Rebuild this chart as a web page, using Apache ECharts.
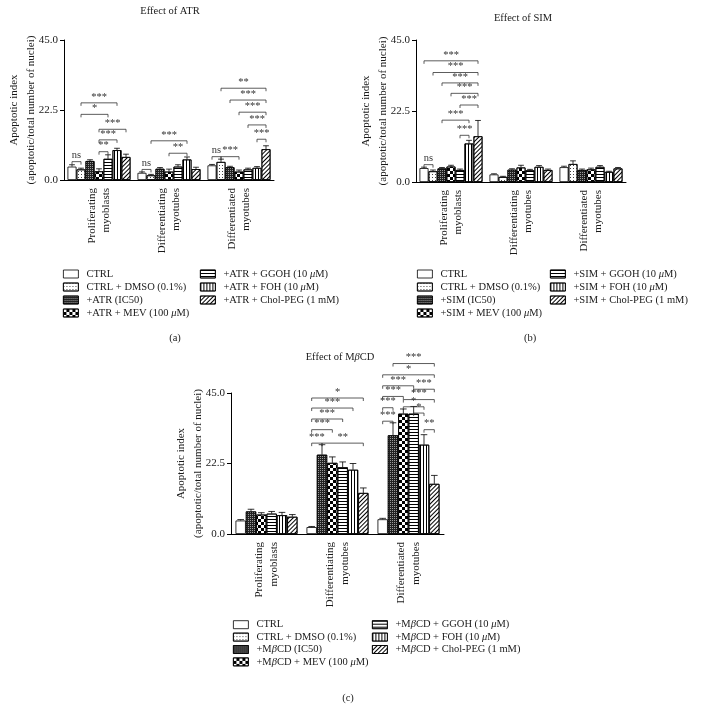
<!DOCTYPE html>
<html><head><meta charset="utf-8">
<script src="https://cdn.jsdelivr.net/npm/echarts/dist/echarts.min.js"></script>
<style>html,body{margin:0;padding:0;background:#fff}#c{width:703px;height:711px}</style>
</head><body><div id="c"></div>
<script>
// ---------- DATA ----------
const groups = ['Proliferating\nmyoblasts', 'Differentiating\nmyotubes', 'Differentiated\nmyotubes'];
const yTicks = [0, 22.5, 45];

const namesA = ['CTRL', 'CTRL + DMSO (0.1%)', '+ATR (IC50)', '+ATR + MEV (100 μM)', '+ATR + GGOH (10 μM)', '+ATR + FOH (10 μM)', '+ATR + Chol-PEG (1 mM)'];
const valuesA = [
  [4.3, 2.3, 4.7],
  [3.4, 1.5, 5.8],
  [6.1, 3.6, 4.1],
  [2.8, 2.7, 2.7],
  [6.8, 4.3, 3.4],
  [9.6, 6.6, 3.9],
  [7.4, 3.5, 9.9]
];
const errorsA = [
  [0.6, 0.3, 0.3],
  [0.4, 0.3, 0.9],
  [0.4, 0.4, 0.3],
  [0.8, 0.8, 0.5],
  [1.3, 0.6, 0.4],
  [0.6, 0.8, 0.4],
  [0.9, 0.6, 1.1]
];
// [group, fromBar, toBar, y, label]
const bracketsA = [
  [0, 0, 1, 5.9, 'ns'], [0, 3, 4, 9.1, '**'], [0, 3, 5, 12.9, '***'], [0, 3, 6, 16.3, '***'], [0, 1, 4, 21.1, '*'], [0, 1, 5, 24.8, '***'],
  [1, 0, 1, 3.4, 'ns'], [1, 3, 5, 8.6, '**'], [1, 1, 5, 12.6, '***'],
  [2, 0, 1, 7.5, 'ns'], [2, 1, 3, 7.5, '***'], [2, 5, 6, 13.1, '***'], [2, 4, 6, 17.7, '***'], [2, 3, 6, 21.8, '***'], [2, 2, 6, 25.7, '***'], [2, 1, 6, 29.5, '**']
];

const namesB = ['CTRL', 'CTRL + DMSO (0.1%)', '+SIM (IC50)', '+SIM + MEV (100 μM)', '+SIM + GGOH (10 μM)', '+SIM + FOH (10 μM)', '+SIM + Chol-PEG (1 mM)'];
const valuesB = [
  [4.4, 2.4, 4.7],
  [3.4, 1.6, 5.7],
  [4.3, 3.9, 3.8],
  [4.9, 4.6, 4.0],
  [3.8, 3.7, 4.8],
  [12.2, 4.8, 3.2],
  [14.5, 3.8, 4.3]
];
const errorsB = [
  [0.3, 0.2, 0.3],
  [0.4, 0.2, 1.0],
  [0.3, 0.3, 0.3],
  [0.4, 0.7, 0.4],
  [0.3, 0.3, 0.4],
  [1.0, 0.4, 0.2],
  [5.0, 0.3, 0.3]
];
const bracketsB = [
  [0, 0, 1, 5.5, 'ns'], [0, 4, 5, 14.8, '***'], [0, 2, 5, 19.6, '***'], [0, 4, 6, 24.4, '***'], [0, 3, 6, 28.1, '***'], [0, 2, 6, 31.4, '***'], [0, 1, 6, 34.7, '***'], [0, 0, 6, 38.4, '***']
];

const namesC = ['CTRL', '+MβCD (IC50)', '+MβCD + MEV (100 μM)', '+MβCD + GGOH (10 μM)', '+MβCD + FOH (10 μM)', '+MβCD + Chol-PEG (1 mM)'];
const legendC = ['CTRL', 'CTRL + DMSO (0.1%)', '+MβCD (IC50)', '+MβCD + MEV (100 μM)', '+MβCD + GGOH (10 μM)', '+MβCD + FOH (10 μM)', '+MβCD + Chol-PEG (1 mM)'];
const valuesC = [
  [4.3, 2.2, 4.7],
  [7.2, 25.3, 31.5],
  [6.2, 22.7, 38.4],
  [6.5, 21.3, 38.4],
  [6.0, 20.5, 28.5],
  [5.5, 13.1, 16.0]
];
const errorsC = [
  [0.3, 0.2, 0.3],
  [0.7, 3.2, 4.0],
  [0.6, 1.9, 1.5],
  [0.7, 1.7, 2.3],
  [0.9, 2.0, 3.2],
  [0.7, 1.6, 2.7]
];
const bracketsC = [
  [1, 0, 1, 29.0, '***'], [1, 1, 5, 29.0, '**'], [1, 0, 2, 33.3, '***'], [1, 0, 3, 36.7, '***'], [1, 0, 4, 40.2, '***'], [1, 0, 5, 43.4, '*'],
  [2, 4, 5, 33.3, '**'], [2, 0, 1, 36.0, '***'], [2, 3, 4, 38.6, '*'], [2, 0, 1, 40.3, '***'], [2, 2, 4, 40.6, '*'],
  [2, 0, 2, 43.9, '***'], [2, 2, 5, 42.9, '***'], [2, 0, 3, 47.3, '***'], [2, 3, 5, 46.2, '***'], [2, 0, 5, 50.8, '*'], [2, 1, 5, 54.4, '***']
];

// ---------- STYLE ----------
const FONT = '"Liberation Serif", "Times New Roman", serif';
const TXT = '#1a1a1a';
const patterns = [
  { color: '#fff' },
  { color: '#fff', decal: { symbol: 'rect', symbolSize: 1, color: '#444', dashArrayX: [1, 2], dashArrayY: [1, 2] } },
  { color: '#222', decal: { symbol: 'rect', symbolSize: 1, color: '#9a9a9a', dashArrayX: [1, 1], dashArrayY: [1, 1] } },
  { color: '#fff', decal: { symbol: 'rect', symbolSize: 1, color: '#000', dashArrayX: [[3, 3], [0, 3, 3, 0]], dashArrayY: [3, 0] } },
  { color: '#fff', decal: { symbol: 'rect', symbolSize: 1, color: '#000', dashArrayX: [1, 0], dashArrayY: [1, 2] } },
  { color: '#fff', decal: { symbol: 'rect', symbolSize: 1, color: '#000', dashArrayX: [1, 2], dashArrayY: [1, 0] } },
  { color: '#fff', decal: { symbol: 'rect', symbolSize: 1, color: '#000', dashArrayX: [1, 0], dashArrayY: [1, 2], rotation: -Math.PI / 4 } }
];

function italicize(s) { return s.replace('μ', '{i|μ}').replace('β', '{i|β}'); }

function barSeries(names, vals, styleIdx, ax, gap) {
  return names.map((n, i) => ({
    type: 'bar', name: n, xAxisIndex: ax, yAxisIndex: ax, data: vals[i],
    barGap: '0%', barCategoryGap: gap, animation: false,
    itemStyle: Object.assign({}, patterns[styleIdx[i]], { borderColor: '#000', borderWidth: 0.8 }),
    emphasis: { disabled: true }, silent: true
  }));
}

function barX(api, g, j, n, gap) {
  const c = api.coord([g, 0]);
  const band = api.size([1, 0])[0];
  const total = band * (1 - gap);
  const bw = total / n;
  return { x: c[0] - total / 2 + (j + 0.5) * bw, bw: bw };
}

function errorSeries(vals, errs, ax, n, gap) {
  const data = [];
  vals.forEach((row, j) => row.forEach((v, g) => data.push([g, j, v, errs[j][g]])));
  return {
    type: 'custom', xAxisIndex: ax, yAxisIndex: ax, data: data, z: 5, silent: true, animation: false,
    encode: { x: 0, y: 2 },
    renderItem: function (params, api) {
      const g = api.value(0), j = api.value(1), v = api.value(2), e = api.value(3);
      const p = barX(api, g, j, n, gap);
      const y0 = api.coord([g, v])[1], y1 = api.coord([g, v + e])[1];
      const cw = p.bw * 0.32;
      return {
        type: 'group', children: [
          { type: 'line', shape: { x1: p.x, y1: y0, x2: p.x, y2: y1 }, style: { stroke: '#000', lineWidth: 0.8 } },
          { type: 'line', shape: { x1: p.x - cw, y1: y1, x2: p.x + cw, y2: y1 }, style: { stroke: '#000', lineWidth: 0.8 } }
        ]
      };
    }
  };
}

function bracketSeries(br, ax, n, gap) {
  return {
    type: 'custom', xAxisIndex: ax, yAxisIndex: ax, data: br.map(b => [b[0], b[1], b[2], b[3]]), z: 6, silent: true, animation: false,
    encode: { x: 0, y: 3 }, clip: false,
    renderItem: function (params, api) {
      const g = api.value(0), i = api.value(1), j = api.value(2), y = api.value(3);
      const label = br[params.dataIndex][4];
      const a = barX(api, g, i, n, gap).x, b = barX(api, g, j, n, gap).x;
      const py = api.coord([g, y])[1];
      return {
        type: 'group', children: [
          { type: 'polyline', shape: { points: [[a, py + 3], [a, py], [b, py], [b, py + 3]] }, style: { stroke: '#333', lineWidth: 0.8, fill: null } },
          { type: 'text', x: (a + b) / 2, y: py - 0.5, style: { text: label, textAlign: 'center', textVerticalAlign: 'bottom', align: 'center', verticalAlign: 'bottom', font: '10.5px ' + FONT, fill: '#333' } }
        ]
      };
    }
  };
}

function xAxis(gi) {
  return {
    type: 'category', gridIndex: gi, data: groups,
    axisLine: { lineStyle: { color: '#000', width: 1 } },
    axisTick: { alignWithLabel: true, length: 4, lineStyle: { color: '#000' } },
    axisLabel: { interval: 0, rotate: 90, margin: 8, fontFamily: FONT, fontSize: 11, lineHeight: 14.5, color: TXT }
  };
}
function yAxis(gi) {
  return {
    type: 'value', gridIndex: gi, min: yTicks[0], max: yTicks[yTicks.length - 1], interval: yTicks[1] - yTicks[0],
    name: 'Apoptotic index\n(apoptotic/total number of nuclei)', nameLocation: 'middle', nameRotate: 90, nameGap: 24,
    nameMoveOverlap: false,
    nameTextStyle: { fontFamily: FONT, fontSize: 11, lineHeight: 17, color: TXT },
    axisLine: { show: true, lineStyle: { color: '#000', width: 1 } },
    axisTick: { show: true, length: 4, lineStyle: { color: '#000' } },
    splitLine: { show: false },
    axisLabel: { formatter: v => v.toFixed(1), fontFamily: FONT, fontSize: 11, margin: 6, color: TXT }
  };
}

function legend(data, left, top, lh) {
  return {
    data: data, left: left, top: top, orient: 'vertical', padding: 0, itemGap: 0,
    itemWidth: 15, itemHeight: 8, icon: 'rect', selectedMode: false,
    itemStyle: { borderColor: '#000', borderWidth: 0.8 },
    formatter: italicize,
    textStyle: {
      fontFamily: FONT, fontSize: 10.5, lineHeight: lh, color: TXT, padding: [0, 0, 0, 3],
      rich: { i: { fontFamily: FONT, fontSize: 10.5, fontStyle: 'italic', lineHeight: lh, color: TXT } }
    }
  };
}

function title(text, x, y) {
  return {
    text: text, left: x, top: y, textAlign: 'center', padding: 0,
    textStyle: { fontFamily: FONT, fontSize: 10.5, fontWeight: 'normal', color: TXT,
      rich: { i: { fontFamily: FONT, fontSize: 10.5, fontStyle: 'italic', color: TXT } } }
  };
}

const gapAB = 0.10, gapC = 0.127;
const option = {
  backgroundColor: '#fff',
  animation: false,
  title: [
    title('Effect of ATR', 170, 6), title('Effect of SIM', 523, 13), title('Effect of M{i|β}CD', 340, 352),
    title('(a)', 175, 333), title('(b)', 530, 333), title('(c)', 348, 693)
  ],
  grid: [
    { left: 64, top: 40, width: 210, height: 140 },
    { left: 416, top: 40, width: 210, height: 142 },
    { left: 231, top: 393, width: 213, height: 141 }
  ],
  xAxis: [xAxis(0), xAxis(1), xAxis(2)],
  yAxis: [yAxis(0), yAxis(1), yAxis(2)],
  legend: [
    legend(namesA.slice(0, 4), 63, 267.5, 13), legend(namesA.slice(4), 200, 267.5, 13),
    legend(namesB.slice(0, 4), 417, 267.5, 13), legend(namesB.slice(4), 550, 267.5, 13),
    legend(legendC.slice(0, 4), 233, 618.5, 12.4), legend(legendC.slice(4), 372, 618.5, 12.4)
  ],
  series: [].concat(
    barSeries(namesA, valuesA, [0, 1, 2, 3, 4, 5, 6], 0, '10%'),
    [errorSeries(valuesA, errorsA, 0, 7, gapAB), bracketSeries(bracketsA, 0, 7, gapAB)],
    barSeries(namesB, valuesB, [0, 1, 2, 3, 4, 5, 6], 1, '10%'),
    [errorSeries(valuesB, errorsB, 1, 7, gapAB), bracketSeries(bracketsB, 1, 7, gapAB)],
    barSeries(namesC, valuesC, [0, 2, 3, 4, 5, 6], 2, '12.7%'),
    [errorSeries(valuesC, errorsC, 2, 6, gapC), bracketSeries(bracketsC, 2, 6, gapC)]
  )
};
const chart = echarts.init(document.getElementById('c'), null, { renderer: 'canvas' });
chart.setOption(option);
</script>
</body></html>
